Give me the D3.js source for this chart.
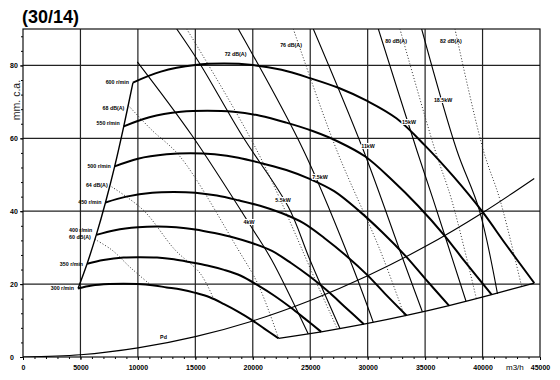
<!DOCTYPE html>
<html>
<head>
<meta charset="utf-8">
<script src="https://cdn.jsdelivr.net/npm/d3@7"></script>
<style>
body{margin:0;background:#fff;}
svg{display:block;font-family:Arial,"Liberation Sans",sans-serif;}
</style>
</head>
<body>
<svg id="chart"></svg>
<script>
// axis ticks
var xTicks = [0,5000,10000,15000,20000,25000,30000,35000,40000,45000];
var yTicks = [0,20,40,60,80];

// fan speed curves: [flow m3/h, pressure mm c.a.]
var speeds = [300,350,400,450,500,550,600];
var rpm300 = [[4790,18.8],[6000,19.6],[7500,20.0],[8750,20.1],[10000,20.0],[11250,19.7],[12500,19.1],[13750,18.5],[15000,17.6],[16250,16.4],[17500,14.5],[18750,12.4],[20000,10.0],[21000,7.8],[22250,5.1]];
var rpm350 = [[5580,25.6],[7000,26.6],[8750,27.3],[10210,27.4],[11670,27.3],[13130,26.8],[14580,26.0],[16040,25.1],[17500,23.9],[18960,22.3],[20420,19.7],[21880,16.8],[23330,13.5],[24500,10.6],[25960,6.9]];
var rpm400 = [[6380,33.5],[8000,34.8],[10000,35.6],[11670,35.8],[13330,35.6],[15000,35.0],[16670,34.0],[18330,32.8],[20000,31.2],[21670,29.1],[23330,25.8],[25000,22.0],[26670,17.7],[28000,13.8],[29670,9.0]];
var rpm450 = [[7180,42.4],[9000,44.0],[11250,45.1],[13130,45.3],[15000,45.1],[16880,44.3],[18750,43.0],[20630,41.5],[22500,39.5],[24380,36.8],[26250,32.6],[28130,27.8],[30000,22.4],[31500,17.4],[33380,11.4]];
var rpm500 = [[7980,52.3],[10000,54.4],[12500,55.6],[14580,55.9],[16670,55.6],[18750,54.7],[20830,53.1],[22920,51.3],[25000,48.8],[27080,45.5],[29170,40.3],[31250,34.3],[33330,27.6],[35000,21.5],[37080,14.1]];
var rpm550 = [[8770,63.3],[11000,65.8],[13750,67.3],[16040,67.6],[18330,67.3],[20630,66.2],[22920,64.3],[25210,62.0],[27500,59.0],[29790,55.0],[32080,48.7],[34380,41.5],[36670,33.4],[38500,26.0],[40790,17.1]];
var rpm600 = [[9570,75.3],[12000,78.3],[15000,80.1],[17500,80.5],[20000,80.1],[22500,78.8],[25000,76.5],[27500,73.8],[30000,70.2],[32500,65.5],[35000,58.0],[37500,49.4],[40000,39.8],[42000,31.0],[44500,20.3]];
var speedCurves = [rpm300,rpm350,rpm400,rpm450,rpm500,rpm550,rpm600];

// motor power lines
var kwNames = ["4kW","5.5kW","7.5kW","11kW","15kW","18.5kW"];
var kw4 = [[9950,81.0],[14680,60.9],[20050,34.8],[21650,26.6],[24830,6.3]];
var kw55 = [[13380,90],[15410,80.4],[19040,60.9],[23090,41.2],[24980,26.6],[27590,7.8]];
var kw75 = [[18740,90],[24400,56.8],[28460,26.6],[30490,9.5]];
var kw11 = [[25270,90],[29620,56.8],[33100,26.6],[34760,12.4]];
var kw15 = [[30930,90],[34270,56.8],[35710,43.1],[38560,15.3]];
var kw185 = [[34700,90],[37750,56.8],[39700,40.5],[41300,17.3]];
var kwLines = [kw4,kw55,kw75,kw11,kw15,kw185];
var kwLabelAt = [[19670,37.0],[22630,43.1],[25850,49.4],[30030,57.9],[33600,64.6],[36560,70.4]];

// noise lines (dotted)
var dbNames = ["60 dB(A)","64 dB(A)","68 dB(A)","72 dB(A)","76 dB(A)","80 dB(A)","82 dB(A)"];
var db60 = [[6250,32.3],[7720,29.4],[9400,24.4],[11100,19.8]];
var db64 = [[7720,46.7],[10470,40.3],[13230,29.4],[15410,23.0],[16560,16.2]];
var db68 = [[9170,69.0],[11200,62.3],[13670,55.0],[18740,29.4],[20480,19.8],[22250,5.1]];
var db72 = [[14250,90],[20340,56.8],[25700,19.3],[27360,7.7]];
var db76 = [[23530,90],[27300,56.8],[31070,29.4],[33200,11.3]];
var db80 = [[32810,90],[35860,56.8],[37310,43.1],[39470,15.9]];
var db82 = [[37600,90],[40060,56.8],[41520,43.1],[43410,19.2]];
var dbLines = [db60,db64,db68,db72,db76,db80,db82];
var dbTopLabelAt = [[18500,83.1],[23330,85.6],[32470,86.6],[37250,86.6]];

// dynamic pressure
var pd = [[0,0],[5000,0.6],[10000,2.5],[15000,5.6],[20000,9.9],[25000,15.5],[30000,22.3],[35000,30.3],[40000,39.6],[44500,49.0]];

var screen = {width:560, height:380};
var margins = {top:29, bottom:23, left:23, right:20};

var svg = d3.select("#chart")
    .attr("width", screen.width)
    .attr("height", screen.height);

var xScale = d3.scaleLinear()
    .domain([0,45000])
    .range([margins.left, screen.width-margins.right]);
var yScale = d3.scaleLinear()
    .domain([0,90])
    .range([screen.height-margins.bottom, margins.top]);

svg.append("clipPath").attr("id","plot")
    .append("rect")
    .attr("x", xScale(0)).attr("y", yScale(90))
    .attr("width", xScale(45000)-xScale(0))
    .attr("height", yScale(0)-yScale(90));

//grid
var grid = svg.append("g").attr("class","grid");
grid.selectAll("line.v")
    .data(xTicks.slice(1,-1))
    .enter().append("line")
    .attr("x1", function(d){return xScale(d)})
    .attr("x2", function(d){return xScale(d)})
    .attr("y1", yScale(0)).attr("y2", yScale(90))
    .attr("stroke","#222").attr("stroke-width",1.2);
grid.selectAll("line.h")
    .data(yTicks.slice(1))
    .enter().append("line")
    .attr("y1", function(d){return yScale(d)})
    .attr("y2", function(d){return yScale(d)})
    .attr("x1", xScale(0)).attr("x2", xScale(45000))
    .attr("stroke","#222").attr("stroke-width",1.2);

//axes
var xAxis = d3.axisBottom(xScale).tickValues(xTicks).tickSize(3).tickFormat(d3.format("d"));
var xMinor = d3.axisBottom(xScale).tickValues(d3.range(0,45001,1000)).tickSize(2).tickFormat("");
var yAxis = d3.axisLeft(yScale).tickValues(yTicks).tickSize(3);
var yMinor = d3.axisLeft(yScale).tickValues(d3.range(0,90,4)).tickSize(2).tickFormat("");

svg.append("g").attr("transform","translate(0,"+yScale(0)+")").call(xMinor);
var gx = svg.append("g").attr("transform","translate(0,"+yScale(0)+")").call(xAxis);
gx.selectAll("text").attr("font-size",7).attr("font-weight","bold").attr("fill","#000").attr("dy","1.05em");
svg.append("g").attr("transform","translate("+xScale(0)+",0)").call(yMinor);
var gy = svg.append("g").attr("transform","translate("+xScale(0)+",0)").call(yAxis);
gy.selectAll("text").attr("font-size",7).attr("font-weight","bold").attr("fill","#000")
    .attr("text-anchor","start").attr("x",-13);
svg.selectAll(".domain").remove();

//frame
svg.append("rect")
    .attr("x", xScale(0)).attr("y", yScale(90))
    .attr("width", xScale(45000)-xScale(0))
    .attr("height", yScale(0)-yScale(90))
    .attr("fill","none").attr("stroke","#111").attr("stroke-width",1.2);

var linegen = d3.line()
    .x(function(d){return xScale(d[0])})
    .y(function(d){return yScale(d[1])})
    .curve(d3.curveCatmullRom.alpha(0.5));

var plot = svg.append("g").attr("clip-path","url(#plot)");

//noise lines
plot.selectAll("path.db")
    .data(dbLines)
    .enter().append("path")
    .attr("class","db")
    .attr("d", linegen)
    .attr("fill","none").attr("stroke","#333")
    .attr("stroke-width",1).attr("stroke-dasharray","1,2");

//power lines
plot.selectAll("path.kw")
    .data(kwLines)
    .enter().append("path")
    .attr("class","kw")
    .attr("d", linegen)
    .attr("fill","none").attr("stroke","#000").attr("stroke-width",1.1);

//pd
plot.append("path")
    .datum(pd)
    .attr("d", linegen)
    .attr("fill","none").attr("stroke","#000").attr("stroke-width",1.1);

//boundaries
var leftEdge = speedCurves.map(function(c){return c[0]});
var lowEdge = speedCurves.map(function(c){return c[c.length-1]});
plot.append("path").datum(leftEdge).attr("d", linegen)
    .attr("fill","none").attr("stroke","#000").attr("stroke-width",1.4);
plot.append("path").datum(lowEdge).attr("d", linegen)
    .attr("fill","none").attr("stroke","#000").attr("stroke-width",1.3);

//speed curves
plot.selectAll("path.rpm")
    .data(speedCurves)
    .enter().append("path")
    .attr("class","rpm")
    .attr("d", linegen)
    .attr("fill","none").attr("stroke","#000").attr("stroke-width",2);

//labels
var labels = svg.append("g").attr("font-size",5.3).attr("font-weight","bold").attr("fill","#000");
var speedDy = [2,2,-2.5,1.5,2,-1.5,1.5];
labels.selectAll("text.rpm")
    .data(speeds)
    .enter().append("text")
    .attr("text-anchor","end")
    .attr("x", function(d,i){return xScale(speedCurves[i][0][0])-4})
    .attr("y", function(d,i){return yScale(speedCurves[i][0][1])+speedDy[i]})
    .text(function(d){return d+" r/min"});

labels.selectAll("text.dbl")
    .data(dbNames.slice(0,3))
    .enter().append("text")
    .attr("text-anchor","end")
    .attr("x", function(d,i){return xScale(dbLines[i][0][0])-4})
    .attr("y", function(d,i){return yScale(dbLines[i][0][1])+[0,0,4][i]})
    .text(function(d){return d});

labels.selectAll("text.dbt")
    .data(dbNames.slice(3))
    .enter().append("text")
    .attr("text-anchor","middle")
    .attr("x", function(d,i){return xScale(dbTopLabelAt[i][0])})
    .attr("y", function(d,i){return yScale(dbTopLabelAt[i][1])+2})
    .text(function(d){return d});

labels.selectAll("text.kw")
    .data(kwNames)
    .enter().append("text")
    .attr("text-anchor","middle")
    .attr("x", function(d,i){return xScale(kwLabelAt[i][0])})
    .attr("y", function(d,i){return yScale(kwLabelAt[i][1])+2})
    .attr("stroke","#fff").attr("stroke-width",2).attr("paint-order","stroke")
    .text(function(d){return d});

labels.append("text")
    .attr("text-anchor","middle")
    .attr("x", xScale(12230)).attr("y", yScale(5.5)+2)
    .text("Pd");

//title and axis names
svg.append("text")
    .attr("x",22).attr("y",23)
    .attr("font-size",18).attr("font-weight","bold")
    .text("(30/14)");
svg.append("g")
    .attr("transform","translate(20,100)")
    .append("text")
    .attr("transform","rotate(-90)")
    .attr("text-anchor","middle")
    .attr("font-size",10.5)
    .attr("fill","#222")
    .text("mm. c.a.");
svg.append("text")
    .attr("x",506).attr("y",370)
    .attr("font-size",8)
    .text("m3/h");
</script>
</body>
</html>
